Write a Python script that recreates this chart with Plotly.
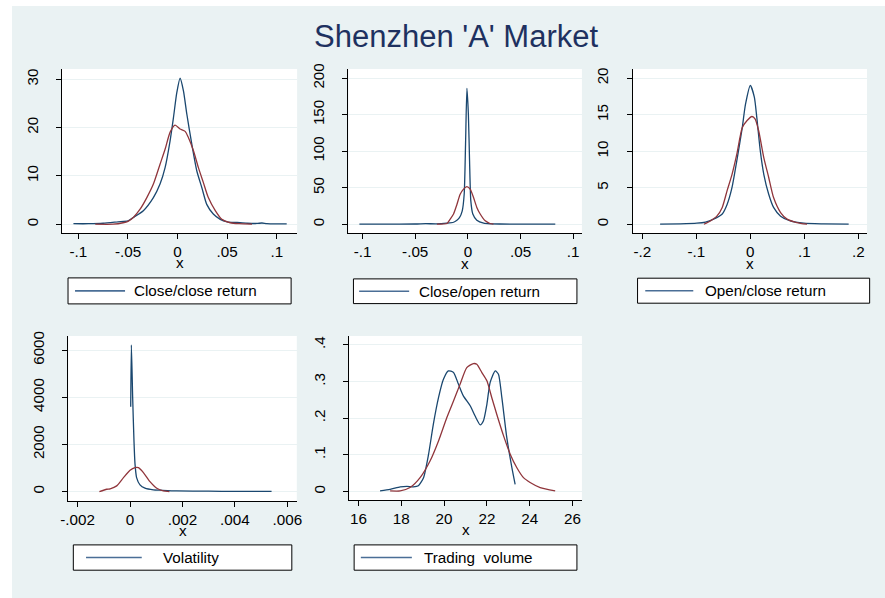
import plotly.graph_objects as go

# layout is written in page pixels and converted to figure paper fractions
SX, OX = 0.985, 8.0
SY, OY = 0.990, 5.1
W = int(round((885 - OX) / SX))
H = int(round((598 - OY) / SY))

# ---------------- data: kernel density (blue) and normal overlay (red) ----------------
# Close/close return
cc_x = [-0.105, -0.09, -0.075, -0.06, -0.05, -0.0446, -0.0345, -0.0244, -0.0177, -0.0126,
        -0.0076, -0.0042, -0.0008, 0.0025, 0.0059, 0.0093, 0.0143, 0.0194, 0.0244, 0.0294,
        0.036, 0.043, 0.050, 0.06, 0.07, 0.08, 0.085, 0.09, 0.1, 0.11]
cc_y = [0.1, 0.1, 0.2, 0.5, 0.7, 1.4, 2.8, 5.5, 8.3, 11.7,
        17.2, 22.0, 27.2, 30.2, 27.6, 22.8, 16.6, 11.0, 7.6, 4.1,
        2.1, 1.0, 0.5, 0.35, 0.2, 0.15, 0.25, 0.1, 0.05, 0.05]
cc_nx = [-0.083, -0.065, -0.055, -0.05, -0.0446, -0.0378, -0.031, -0.0244, -0.0177, -0.0126,
         -0.0076, -0.0025, 0.0025, 0.0076, 0.011, 0.016, 0.021, 0.026, 0.031, 0.038,
         0.0446, 0.053, 0.062, 0.075]
cc_ny = [0.0, 0.0, 0.3, 0.6, 1.4, 3.1, 5.5, 8.3, 12.4, 15.5,
         19.0, 20.5, 19.7, 19.2, 17.9, 15.2, 11.7, 8.6, 5.5, 2.8,
         1.0, 0.3, 0.1, 0.0]

# Close/open return
co_x = [-0.103, -0.08, -0.05, -0.04, -0.03, -0.02, -0.0136, -0.0104, -0.008, -0.0054,
        -0.0035, -0.0022, -0.0009, 0.0005, 0.0016, 0.0028, 0.0047, 0.0085, 0.015, 0.022,
        0.03, 0.05, 0.083]
co_y = [0.1, 0.2, 0.3, 0.8, 0.5, 1.5, 2.7, 5.5, 9.0, 18.0,
        41.0, 110.0, 186.0, 150.0, 87.0, 32.0, 14.0, 5.5, 1.4, 0.6,
        0.3, 0.1, 0.1]
co_nx = [-0.0294, -0.0199, -0.0168, -0.0136, -0.0104, -0.0073, -0.0041, -0.001, 0.0022,
         0.0054, 0.0085, 0.0117, 0.0165, 0.021, 0.0243]
co_ny = [0.0, 1.0, 7.0, 14.0, 27.0, 41.0, 48.0, 51.6, 48.0,
         36.5, 23.0, 14.0, 4.6, 1.0, 0.0]

# Open/close return
oc_x = [-0.167, -0.13, -0.099, -0.083, -0.068, -0.052, -0.043, -0.034, -0.025, -0.015,
        -0.009, 0.0, 0.0074, 0.012, 0.0185, 0.025, 0.034, 0.043, 0.056, 0.074,
        0.099, 0.136, 0.182]
oc_y = [0.0, 0.05, 0.14, 0.3, 0.7, 1.4, 2.7, 5.0, 8.7, 13.2,
        16.4, 19.0, 17.4, 14.6, 10.0, 6.8, 4.1, 2.3, 1.1, 0.45,
        0.14, 0.05, 0.0]
oc_nx = [-0.086, -0.074, -0.062, -0.052, -0.043, -0.034, -0.025, -0.015, -0.006, 0.003,
         0.009, 0.0154, 0.025, 0.034, 0.043, 0.056, 0.068, 0.086, 0.105]
oc_ny = [0.0, 0.45, 1.1, 2.3, 4.6, 6.8, 9.6, 13.2, 14.2, 14.75,
         14.4, 12.8, 9.1, 6.4, 3.65, 1.6, 0.7, 0.23, 0.0]

# Volatility
vo_x = [0.000026, 0.00005, 0.0001, 0.00015, 0.00019, 0.00025, 0.00038, 0.00057, 0.00089,
        0.00115, 0.00178, 0.003, 0.004, 0.0054]
vo_y = [3596, 6229, 3991, 2152, 1163, 594, 284, 144, 72,
        59, 28, 15, 10, 5]
vo_nx = [-0.00117, -0.00089, -0.00076, -0.00051, -0.00025, 0.0, 0.00019, 0.00032, 0.00051,
         0.00076, 0.00102, 0.00127, 0.0015]
vo_ny = [0, 99, 119, 242, 594, 907, 1019, 1019, 807,
         425, 144, 28, 0]

# Trading volume
tv_x = [17.01, 17.48, 17.95, 18.26, 18.57, 18.8, 19.04, 19.27, 19.5, 19.74,
        19.97, 20.2, 20.44, 20.67, 20.9, 21.22, 21.45, 21.69, 21.84, 22.0,
        22.15, 22.39, 22.54, 22.7, 22.93, 23.17, 23.32]
tv_y = [0.002, 0.006, 0.013, 0.0145, 0.013, 0.016, 0.038, 0.10, 0.184, 0.256,
        0.306, 0.329, 0.325, 0.293, 0.261, 0.234, 0.206, 0.182, 0.193, 0.238,
        0.297, 0.329, 0.32, 0.256, 0.147, 0.065, 0.02]
tv_nx = [17.48, 17.95, 18.41, 18.88, 19.35, 19.74, 20.13, 20.44, 20.75, 21.06,
         21.37, 21.53, 21.76, 22.0, 22.23, 22.46, 22.78, 23.09, 23.4, 23.71,
         24.02, 24.49, 25.19]
tv_ny = [0.002, 0.002, 0.011, 0.038, 0.084, 0.138, 0.202, 0.247, 0.293, 0.338,
         0.349, 0.347, 0.325, 0.302, 0.256, 0.211, 0.152, 0.102, 0.065, 0.038,
         0.025, 0.011, 0.002]

# ---------------- tick labels ----------------
ret_ticks = [-0.1, -0.05, 0, 0.05, 0.1]
ret_text = ["-.1", "-.05", "0", ".05", ".1"]
oc_ticks = [-0.2, -0.1, 0, 0.1, 0.2]
oc_text = ["-.2", "-.1", "0", ".1", ".2"]
vo_ticks = [-0.002, 0, 0.002, 0.004, 0.006]
vo_text = ["-.002", "0", ".002", ".004", ".006"]
tv_ticks = [16, 18, 20, 22, 24, 26]
tv_text = ["16", "18", "20", "22", "24", "26"]

cc_yt = [0, 10, 20, 30]
co_yt = [0, 50, 100, 150, 200]
oc_yt = [0, 5, 10, 15, 20]
vo_yt = [0, 2000, 4000, 6000]
tv_yt = [0, 0.1, 0.2, 0.3, 0.4]
tv_ytext = ["0", ".1", ".2", ".3", ".4"]

names = ["Close/close return", "Close/open return", "Open/close return",
         "Volatility", "Trading\u00a0 volume"]

# ---------------- styling ----------------
BLUE = "#1a476f"
RED = "#90353b"
BG = "#eaf2f3"
FONT = "Liberation Sans, Arial, sans-serif"
FS = 15 / SX


def fx(px):
    """page pixel column -> paper fraction"""
    return ((px - OX) / SX) / W


def fy(py):
    """page pixel row -> paper fraction"""
    return 1 - ((py - OY) / SY) / H


# panel boxes in page pixels: (left, right, top, bottom), axis ranges
panels = [
    dict(box=(62, 297, 68, 232), xr=(-0.1165, 0.1205), yr=(-1.80, 32.13),
         xt=ret_ticks, xtt=ret_text, yt=cc_yt, ytt=[str(v) for v in cc_yt],
         d=(cc_x, cc_y, cc_nx, cc_ny), leg=(68, 291, 277, 303), samp=(75, 125), tc=195),
    dict(box=(348.3, 581.7, 68, 232.3), xr=(-0.1134, 0.1083), yr=(-12.3, 212.7),
         xt=ret_ticks, xtt=ret_text, yt=co_yt, ytt=[str(v) for v in co_yt],
         d=(co_x, co_y, co_nx, co_ny), leg=(353.3, 576.7, 278, 302.7), samp=(359, 409), tc=479.5),
    dict(box=(632.3, 866.7, 68, 232.3), xr=(-0.218, 0.216), yr=(-1.23, 21.27),
         xt=oc_ticks, xtt=oc_text, yt=oc_yt, ytt=[str(v) for v in oc_yt],
         d=(oc_x, oc_y, oc_nx, oc_ny), leg=(637.3, 869.3, 277.3, 302.3), samp=(645, 693), tc=765),
    dict(box=(68.3, 296.7, 335, 500), xr=(-0.002355, 0.006363), yr=(-395, 6606),
         xt=vo_ticks, xtt=vo_text, yt=vo_yt, ytt=[str(v) for v in vo_yt],
         d=(vo_x, vo_y, vo_nx, vo_ny), leg=(73.3, 291.7, 544, 569.3), samp=(86, 141.7), tc=191),
    dict(box=(349, 581.7, 335, 499), xr=(15.565, 26.44), yr=(-0.0226, 0.4245),
         xt=tv_ticks, xtt=tv_text, yt=tv_yt, ytt=tv_ytext,
         d=(tv_x, tv_y, tv_nx, tv_ny), leg=(354, 576.7, 544, 569.3), samp=(360.7, 411.7), tc=478),
]

fig = go.Figure()
shapes = []
annotations = []

# outer graph region
shapes.append(dict(type="rect", xref="paper", yref="paper", x0=fx(12), x1=1, y0=0, y1=1,
                   fillcolor=BG, line=dict(width=0), layer="below"))

layout = {}
for i, p in enumerate(panels):
    k = "" if i == 0 else str(i + 1)
    xa, ya = "x" + k, "y" + k
    bx, by, nx, ny = p["d"]
    fig.add_trace(go.Scatter(x=bx, y=by, xaxis=xa, yaxis=ya, mode="lines",
                             line=dict(color=BLUE, width=1.3, shape="spline", smoothing=0.6),
                             showlegend=False, hoverinfo="skip"))
    fig.add_trace(go.Scatter(x=nx, y=ny, xaxis=xa, yaxis=ya, mode="lines",
                             line=dict(color=RED, width=1.3, shape="spline", smoothing=0.6),
                             showlegend=False, hoverinfo="skip"))
    l, r, t, b = p["box"]
    layout["xaxis" + k] = dict(
        domain=[fx(l), fx(r)], range=list(p["xr"]), anchor=ya,
        tickmode="array", tickvals=p["xt"], ticktext=p["xtt"],
        ticks="outside", ticklen=5, tickcolor="black", tickwidth=1,
        showline=True, linecolor="black", linewidth=1, mirror=False,
        showgrid=False, zeroline=False,
        tickfont=dict(family=FONT, size=FS, color="black"))
    layout["yaxis" + k] = dict(
        domain=[fy(b), fy(t)], range=list(p["yr"]), anchor=xa,
        tickmode="array", tickvals=p["yt"], ticktext=p["ytt"], tickangle=-90,
        ticks="outside", ticklen=5, tickcolor="black", tickwidth=1, ticklabelstandoff=12,
        showline=True, linecolor="black", linewidth=1, mirror=False,
        showgrid=True, gridcolor=BG, gridwidth=1, zeroline=False,
        tickfont=dict(family=FONT, size=FS, color="black"))
    # white plot region
    shapes.append(dict(type="rect", xref="paper", yref="paper", x0=fx(l), x1=fx(r),
                       y0=fy(b), y1=fy(t), fillcolor="white", line=dict(width=0), layer="below"))
    # axis title
    annotations.append(dict(text="x", xref="paper", yref="paper", x=fx((l + r) / 2), y=fy(b + 30),
                            showarrow=False, xanchor="center", yanchor="middle",
                            font=dict(family=FONT, size=FS, color="black")))
    # key box
    lx0, lx1, ly0, ly1 = p["leg"]
    shapes.append(dict(type="rect", xref="paper", yref="paper", x0=fx(lx0), x1=fx(lx1),
                       y0=fy(ly1), y1=fy(ly0), fillcolor="white",
                       line=dict(color="black", width=1)))
    ym = (ly0 + ly1) / 2
    s0, s1 = p["samp"]
    shapes.append(dict(type="line", xref="paper", yref="paper", x0=fx(s0), x1=fx(s1),
                       y0=fy(ym), y1=fy(ym), line=dict(color="#4a6e96", width=1.6)))
    annotations.append(dict(text=names[i], xref="paper", yref="paper", x=fx(p["tc"]), y=fy(ym),
                            showarrow=False, xanchor="center", yanchor="middle",
                            font=dict(family=FONT, size=FS, color="black")))

annotations.append(dict(text="Shenzhen 'A' Market", xref="paper", yref="paper",
                        x=fx(456), y=fy(36), showarrow=False, xanchor="center", yanchor="middle",
                        font=dict(family=FONT, size=31, color="#1e3160")))

fig.update_layout(
    width=W, height=H, margin=dict(l=0, r=0, t=0, b=0),
    paper_bgcolor="white", plot_bgcolor="rgba(0,0,0,0)",
    shapes=shapes, annotations=annotations, showlegend=False,
    **layout)

fig.write_html("out.html")
